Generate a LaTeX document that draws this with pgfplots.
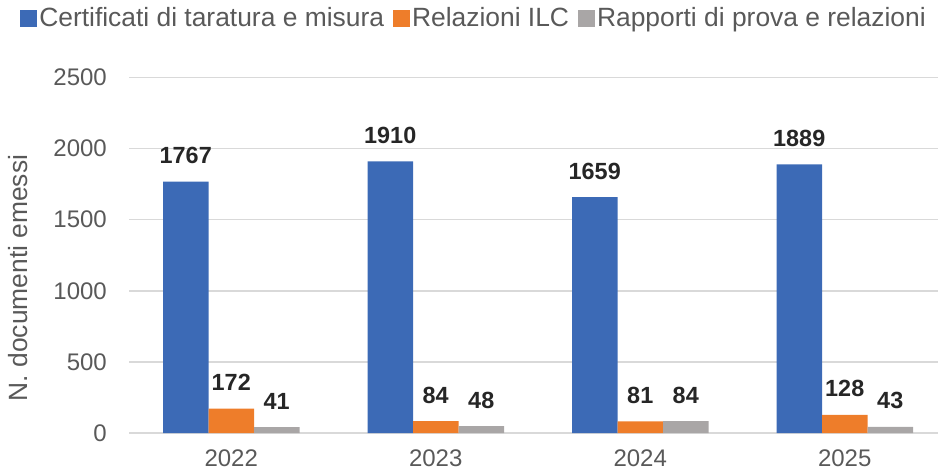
\documentclass[border=0pt]{standalone}
\usepackage{pgfplots}
\pgfplotsset{compat=1.18}
\usepackage{fontspec}
\setmainfont{Liberation Sans}
\definecolor{cblue}{HTML}{3C6AB6}
\definecolor{corange}{HTML}{EE7D2A}
\definecolor{cgray}{HTML}{A9A6A6}
\definecolor{cgrid}{HTML}{D9D9D9}
\definecolor{ctext}{HTML}{595959}
\definecolor{clab}{HTML}{262626}
\begin{document}
\begin{tikzpicture}
\useasboundingbox (0,0) rectangle (938bp,472bp);
\begin{axis}[
  at={(129bp,39bp)}, anchor=south west,
  scale only axis,
  width=809bp, height=355.5bp,
  xmin=-0.5, xmax=3.456,
  ymin=0, ymax=2500,
  ytick={0,500,1000,1500,2000,2500},
  xtick={0,1,2,3},
  xticklabels={2022,2023,2024,2025},
  major tick length=0pt,
  axis line style={draw=none},
  ymajorgrids,
  grid style={color=cgrid, line width=1.5bp},
  /pgf/number format/assume math mode=true,
  /pgf/number format/1000 sep={},
  ticklabel style={font=\fontsize{24bp}{28bp}\selectfont, text=ctext},
  xticklabel style={anchor=north, inner sep=0pt, yshift=-17bp},
  yticklabel style={anchor=east, inner sep=0pt, xshift=-22bp},
  ybar=0pt,
  bar width=45.5bp,
  clip=false,
  nodes near coords,
  every node near coord/.append style={anchor=center, inner sep=0pt, yshift=26bp,
    font=\fontsize{23.4bp}{28bp}\selectfont\bfseries, text=clab},
  legend columns=3,
  legend style={draw=none, fill=none, at={(0.4265,1.167)}, anchor=center,
    font=\fontsize{26.4bp}{30bp}\selectfont, text=ctext,
    /tikz/every even column/.append style={column sep=6bp},
    nodes={inner sep=2.5bp}},
  legend image code/.code={\fill[#1] (0bp,-8.5bp) rectangle (17bp,8.5bp);},
]
\addplot[fill=cblue, draw=none] coordinates {(0,1767) (1,1910) (2,1659) (3,1889)};
\addlegendentry{Certificati di taratura e misura}
\addplot[fill=corange, draw=none] coordinates {(0,172) (1,84) (2,81) (3,128)};
\addlegendentry{Relazioni ILC}
\addplot[fill=cgray, draw=none] coordinates {(0,41) (1,48) (2,84) (3,43)};
\addlegendentry{Rapporti di prova e relazioni}
\end{axis}
\node[rotate=90, font=\fontsize{26.4bp}{30bp}\selectfont, text=ctext] at (18bp,194bp) {N. documenti emessi};
\end{tikzpicture}
\end{document}
